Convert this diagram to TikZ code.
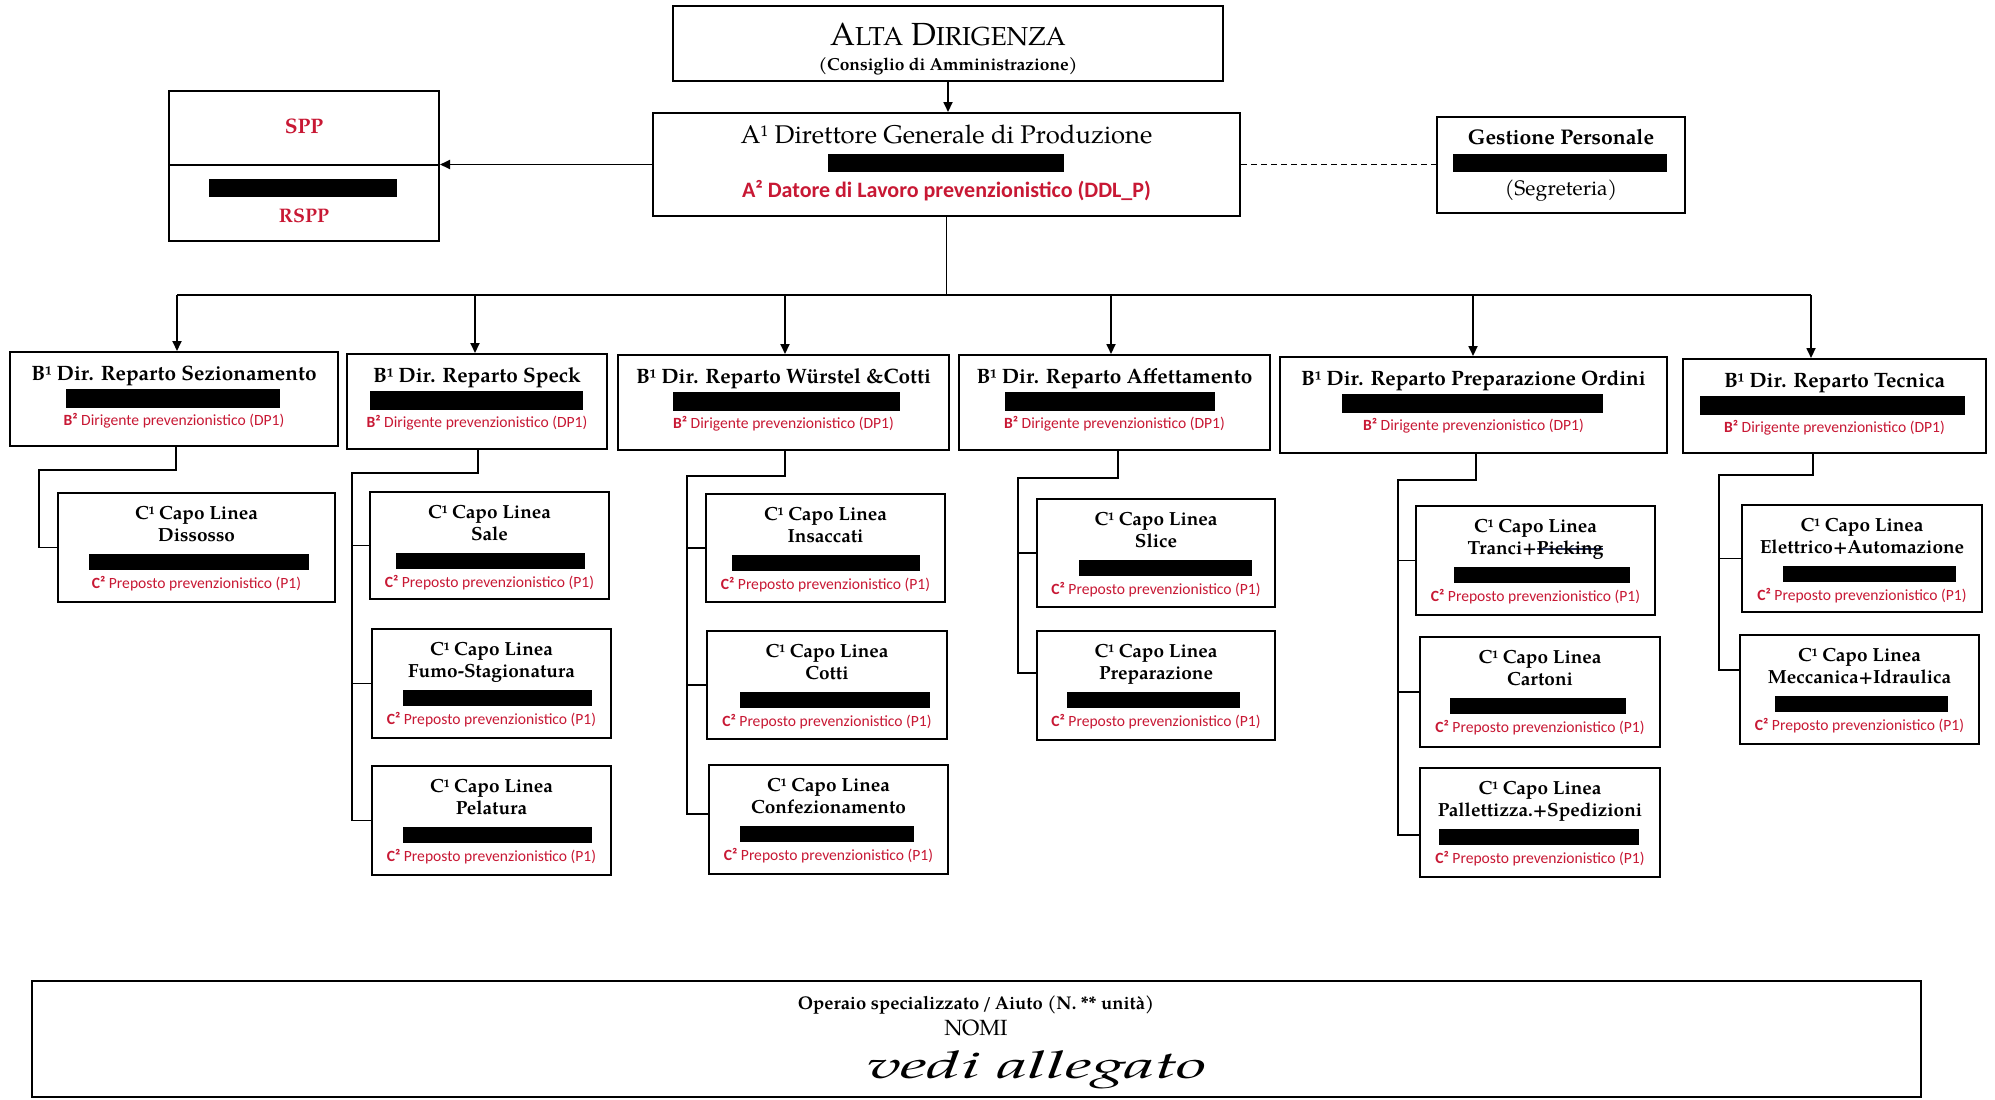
\documentclass[tikz,border=0pt]{standalone}
\usepackage{fontspec}
\setmainfont{TeX Gyre Pagella}
\newfontfamily\redfont{Carlito}
\usetikzlibrary{arrows.meta,calc}
\definecolor{rd}{RGB}{200,24,52}
\newcommand\mystrike[1]{\setbox0\hbox{#1}\rlap{\raisebox{0.55ex}{\color[RGB]{40,50,90}\rule{\wd0}{0.7pt}}}\box0}
\tikzset{
  bx/.style={draw, line width=1pt, rectangle, inner sep=0pt},
  ln/.style={line width=0.9pt},
  arr/.style={line width=0.9pt, -{Triangle[length=5pt,width=4.5pt]}},
  txt/.style={inner sep=0pt, anchor=center, text depth=0pt},
  btitle/.style={txt, text height=7.2pt, font=\fontsize{10.4}{12}\selectfont\bfseries},
  ctitle/.style={txt, text height=6.6pt, font=\fontsize{9.5}{11}\selectfont\bfseries},
  redsmall/.style={txt, text height=5.1pt, text=rd, font=\redfont\fontsize{7.8}{9}\selectfont},
  redbig/.style={txt, text height=7.2pt, text=rd, font=\redfont\fontsize{11}{13}\selectfont\bfseries},
  redserif/.style={txt, text height=7pt, text=rd, font=\fontsize{10.5}{12}\selectfont\bfseries},
}
\newcommand\Bbox[8]{%
  \node[bx, minimum width={(#4-#2)*0.5pt}, minimum height={(#5-#3)*0.5pt}] (#1) at ({(#2+#4)/2},{(#3+#5)/2}) {};
  \node[btitle] (#1t) at ({(#2+#4)/2},{#3+21}) {B¹ Dir. Reparto #6};
  \fill ({#7},{#3+37}) rectangle ({#8},{#3+56});
  \node[redsmall] (#1r) at ({(#2+#4)/2},{#3+68}) {\textbf{B²} Dirigente prevenzionistico (DP1)};
}
\newcommand\Cbox[8]{%
  \node[bx, minimum width={(#4-#2)*0.5pt}, minimum height={(#5-#3)*0.5pt}] (#1) at ({(#2+#4)/2},{(#3+#5)/2}) {};
  \node[ctitle] (#1a) at ({(#2+#4)/2},{#3+20}) {C¹ Capo Linea};
  \node[ctitle] (#1b) at ({(#2+#4)/2},{#3+42}) {#6};
  \fill ({#7},{#3+61}) rectangle ({#8},{#3+77});
  \node[redsmall] (#1r) at ({(#2+#4)/2},{#3+90}) {\textbf{C²} Preposto prevenzionistico (P1)};
}
\begin{document}
\begin{tikzpicture}[x=0.5pt,y=-0.5pt]
\fill[white] (0,0) rectangle (1995,1099);
\useasboundingbox (0,0) rectangle (1995,1099);

% ---- top level
\node[bx, minimum width={550*0.5pt}, minimum height={75*0.5pt}] (alta) at (948,43.5) {};
\node[txt, text height=11pt, font=\fontsize{16}{18}\selectfont] (altat) at (948,34) {A{\fontsize{13}{15}\selectfont LTA} D{\fontsize{13}{15}\selectfont IRIGENZA}};
\node[txt, text height=6pt, font=\fontsize{8.7}{10}\selectfont\bfseries] (altas) at (948,64) {(Consiglio di Amministrazione)};

\node[bx, minimum width={587*0.5pt}, minimum height={103*0.5pt}] (dir) at (946.5,164.5) {};
\node[txt, text height=8.8pt, font=\fontsize{12.8}{15}\selectfont] (dirt) at (946.5,135) {A¹ Direttore Generale di Produzione};
\fill (828,154) rectangle (1064,172);
\node[redbig] (dirr) at (946.5,190) {A² Datore di Lavoro prevenzionistico (DDL\_P)};

\node[bx, minimum width={270*0.5pt}, minimum height={74*0.5pt}] (spp) at (304,127.5) {};
\node[bx, minimum width={270*0.5pt}, minimum height={76*0.5pt}] (rspp) at (304,202.5) {};
\node[redserif] (sppt) at (304,126) {SPP};
\fill (209,179) rectangle (397,197);
\node[redserif, font=\fontsize{9.8}{11}\selectfont\bfseries, text height=6.7pt] (rsppt) at (304,216) {RSPP};

\node[bx, minimum width={248*0.5pt}, minimum height={96*0.5pt}] (gest) at (1561,165) {};
\node[txt, text height=7.2pt, font=\fontsize{10.6}{12}\selectfont\bfseries] (gestt) at (1561,137) {Gestione Personale};
\fill (1453,154) rectangle (1667,172);
\node[txt, text height=7.2pt, font=\fontsize{10.5}{12}\selectfont] (gests) at (1561,188) {(Segreteria)};

\draw[arr] (alta.south) -- (alta.south |- dir.north);
\draw[arr] (dir.west) -- (dir.west -| rspp.east);
\draw[ln, dash pattern=on 3pt off 2pt] (dir.east) -- (dir.east -| gest.west);

% ---- B level
\Bbox{b1}{10}{352}{338}{446}{Sezionamento}{66}{280}
\Bbox{b2}{347}{354}{607}{449}{Speck}{370}{583}
\Bbox{b3}{618}{355}{949}{450}{Würstel \&Cotti}{673}{900}
\Bbox{b4}{959}{355}{1270}{450}{Affettamento}{1005}{1215}
\Bbox{b5}{1280}{357}{1667}{453}{Preparazione Ordini}{1342}{1603}
\Bbox{b6}{1683}{359}{1986}{453}{Tecnica}{1700}{1965}

\coordinate (bus) at (946.5,295);
\coordinate (a1) at (177,295);
\coordinate (a2) at (475,295);
\coordinate (a3) at (785,295);
\coordinate (a4) at (1111,295);
\coordinate (a5) at (1473,295);
\coordinate (a6) at (1811,295);
\draw[ln] (dir.south) -- (bus);
\draw[ln] (a1) -- (a6);
\draw[arr] (a1) -- (a1 |- b1.north);
\draw[arr] (a2) -- (a2 |- b2.north);
\draw[arr] (a3) -- (a3 |- b3.north);
\draw[arr] (a4) -- (a4 |- b4.north);
\draw[arr] (a5) -- (a5 |- b5.north);
\draw[arr] (a6) -- (a6 |- b6.north);

% ---- C level
\Cbox{c11}{58}{493}{335}{602}{Dissosso}{89}{309}
\Cbox{c21}{370}{492}{609}{599}{Sale}{396}{585}
\Cbox{c22}{372}{629}{611}{738}{Fumo-Stagionatura}{403}{592}
\Cbox{c23}{372}{766}{611}{875}{Pelatura}{403}{592}
\Cbox{c31}{706}{494}{945}{602}{Insaccati}{732}{920}
\Cbox{c32}{707}{631}{947}{739}{Cotti}{740}{930}
\Cbox{c33}{709}{765}{948}{874}{Confezionamento}{740}{914}
\Cbox{c41}{1037}{499}{1275}{607}{Slice}{1079}{1252}
\Cbox{c42}{1037}{631}{1275}{740}{Preparazione}{1067}{1240}
\Cbox{c51}{1416}{506}{1655}{615}{Tranci+\mystrike{Picking}}{1454}{1630}
\Cbox{c52}{1420}{637}{1660}{747}{Cartoni}{1450}{1626}
\Cbox{c53}{1420}{768}{1660}{877}{Pallettizza.+Spedizioni}{1439}{1639}
\Cbox{c61}{1742}{505}{1982}{612}{Elettrico+Automazione}{1783}{1956}
\Cbox{c62}{1740}{635}{1979}{744}{Meccanica+Idraulica}{1775}{1948}

% connectors column 1
\coordinate (j1) at (176,470); \coordinate (s1) at (39,470);
\draw[ln] (b1.south -| j1) -- (j1) -- (s1) |- (c11.west);
% column 2
\coordinate (j2) at (478,473); \coordinate (s2) at (352,473);
\draw[ln] (b2.south -| j2) -- (j2) -- (s2) |- (c23.west);
\draw[ln] (s2 |- c21.west) -- (c21.west);
\draw[ln] (s2 |- c22.west) -- (c22.west);
% column 3
\coordinate (j3) at (785,476); \coordinate (s3) at (687,476);
\coordinate (t33) at (0,814);
\draw[ln] (b3.south -| j3) -- (j3) -- (s3) |- (c33.west |- t33);
\draw[ln] (s3 |- c31.west) -- (c31.west);
\draw[ln] (s3 |- c32.west) -- (c32.west);
% column 4
\coordinate (j4) at (1118,478); \coordinate (s4) at (1018,478);
\coordinate (t42) at (0,673);
\draw[ln] (b4.south -| j4) -- (j4) -- (s4) |- (c42.west |- t42);
\draw[ln] (s4 |- c41.west) -- (c41.west);
% column 5
\coordinate (j5) at (1476,480); \coordinate (s5) at (1398,480);
\coordinate (t53) at (0,835);
\draw[ln] (b5.south -| j5) -- (j5) -- (s5) |- (c53.west |- t53);
\draw[ln] (s5 |- c51.west) -- (c51.west);
\draw[ln] (s5 |- c52.west) -- (c52.west);
% column 6
\coordinate (j6) at (1813,475); \coordinate (s6) at (1719,475);
\coordinate (t62) at (0,670);
\draw[ln] (b6.south -| j6) -- (j6) -- (s6) |- (c62.west |- t62);
\draw[ln] (s6 |- c61.west) -- (c61.west);

% ---- bottom
\node[bx, line width=1.3pt, minimum width={1889*0.5pt}, minimum height={116*0.5pt}] (op) at (976.5,1039) {};
\node[txt, text height=6.4pt, font=\fontsize{9.2}{11}\selectfont\bfseries] (opt) at (976,1003) {Operaio specializzato\,/\,Aiuto (N. ** unità)};
\node[txt, text height=7.4pt, font=\fontsize{11}{13}\selectfont] (nomi) at (976,1028) {NOMI};
\node[txt, text height=6pt, font=\fontsize{19}{21}\selectfont\itshape] (hand) at (1037,1072) {\scalebox{1.8}[1]{vedi allegato}};
\end{tikzpicture}
\end{document}
